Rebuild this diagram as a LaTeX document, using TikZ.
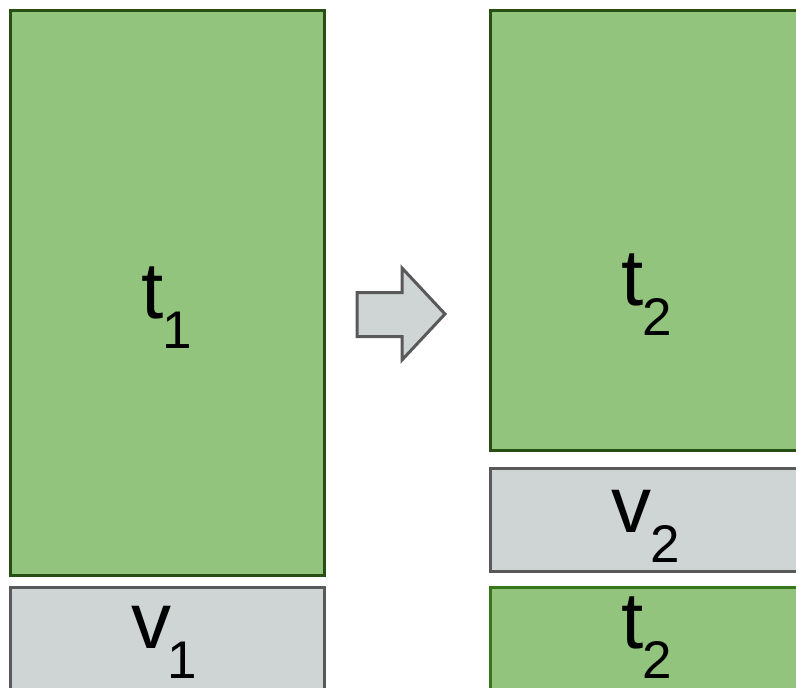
\documentclass[tikz,border=0pt]{standalone}
\usepackage{fontspec}
\setmainfont{Liberation Sans}
\definecolor{boxgreen}{HTML}{93C47D}
\definecolor{edgegreen}{HTML}{274E13}
\definecolor{edgegreenlight}{HTML}{38761D}
\definecolor{boxgray}{HTML}{CFD4D5}
\definecolor{edgegray}{HTML}{595959}
\tikzset{
  tbox/.style={draw=edgegreen, fill=boxgreen, line width=3pt},
  tboxlight/.style={draw=edgegreenlight, fill=boxgreen, line width=3pt},
  vbox/.style={draw=edgegray, fill=boxgray, line width=3pt},
  shiftarrow/.style={draw=edgegray, fill=boxgray, line width=3pt, line join=miter},
  lbl/.style={anchor=base west, inner sep=0pt, font=\fontsize{80}{84}\selectfont},
}
\newcommand{\subl}[1]{\kern-1pt\raisebox{-30pt}{\fontsize{53}{56}\selectfont #1}}
\begin{document}
\begin{tikzpicture}[x=1pt, y=-1pt]
  \useasboundingbox (0,0) rectangle (796,688);
  \begin{scope}
    \clip (0,0) rectangle (796,688);
    % first state
    \draw[tbox] (10,10) rectangle (324.5,575.5);
    \draw[vbox] (10,587) rectangle (324.5,720);
    % second state
    \draw[tbox] (490,10) rectangle (820,450);
    \draw[vbox] (490,468) rectangle (820,571);
    \draw[tboxlight] (490,587.5) rectangle (820,720);
    % transition arrow
    \draw[shiftarrow] (357,292.5) -- (402,292.5) -- (402,268) -- (445,314)
      -- (402,360) -- (402,336.5) -- (357,336.5) -- cycle;
  \end{scope}
  % labels
  \node[lbl] (t1) at (141.5,318) {t\subl{1}};
  \node[lbl] (v1) at (131.5,648) {v\kern-3pt\subl{1}};
  \node[lbl] (t2a) at (621.5,305) {t\subl{2}};
  \node[lbl] (v2) at (611.5,532) {v\subl{2}};
  \node[lbl] (t2b) at (621.5,648) {t\subl{2}};
\end{tikzpicture}
\end{document}
